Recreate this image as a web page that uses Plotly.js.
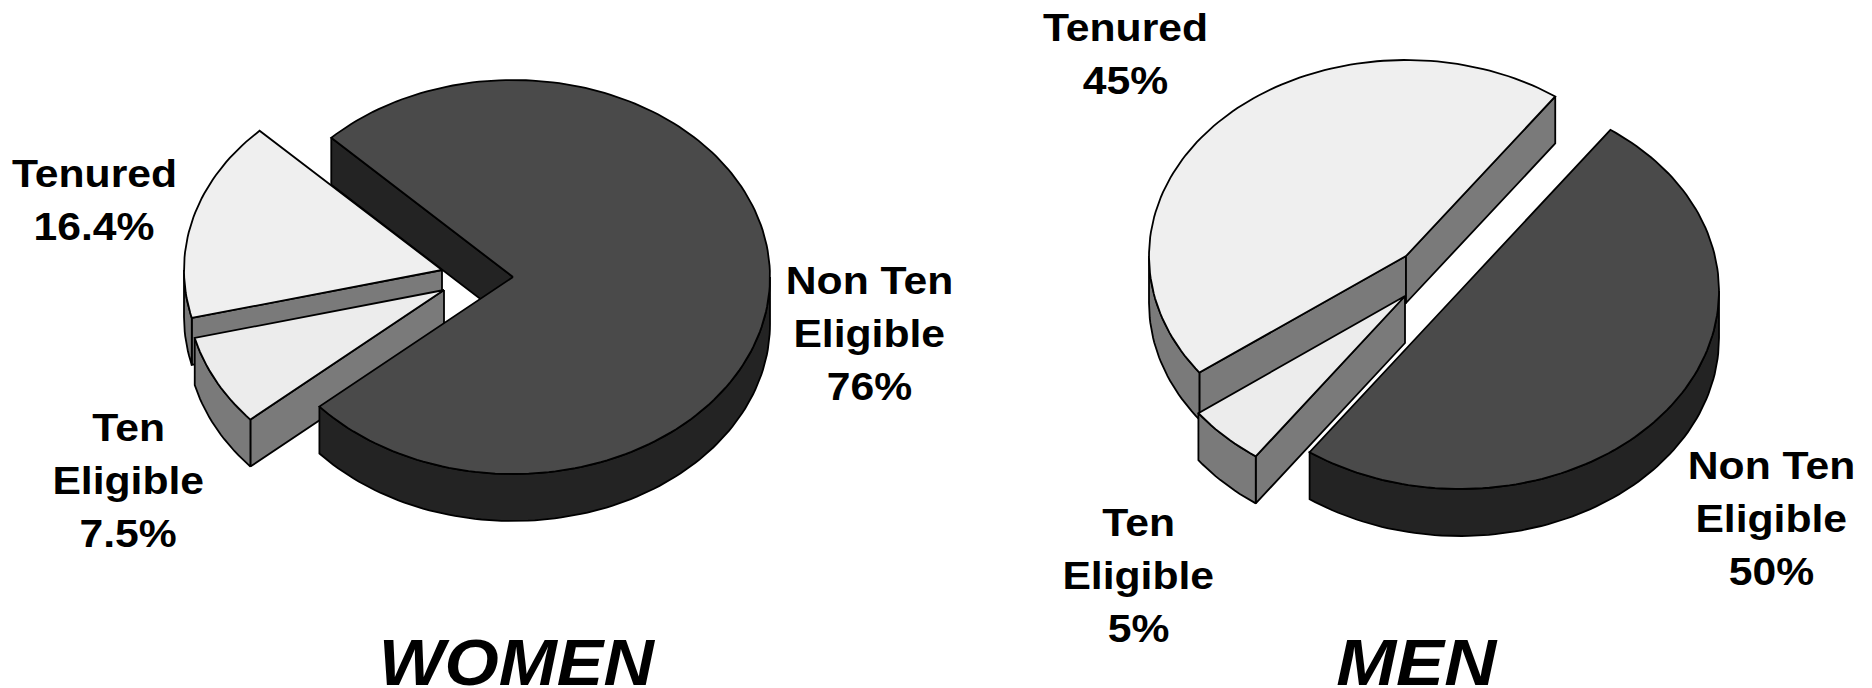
<!DOCTYPE html>
<html>
<head>
<meta charset="utf-8">
<title>Women and Men by tenure status</title>
<script src="https://cdn.plot.ly/plotly-3.0.1.min.js"></script>
<style>html,body{margin:0;padding:0;background:#fff}#chart{width:1872px;height:688px}</style>
</head>
<body>
<div id="chart"></div>
<script>
// ---- data ----
const categories = ["Tenured", "Ten Eligible", "Non Ten Eligible"];
const womenValues = [16.4, 7.5, 76];
const menValues = [45, 5, 50];
const womenLabels = [["Tenured", "16.4%"], ["Ten", "Eligible", "7.5%"], ["Non Ten", "Eligible", "76%"]];
const menLabels = [["Tenured", "45%"], ["Ten", "Eligible", "5%"], ["Non Ten", "Eligible", "50%"]];
const chartTitles = ["WOMEN", "MEN"];

// ---- drawing style and layout ----
const DEPTH = 47, LINE_HEIGHT = 53, LABEL_SIZE = 39.5, LABEL_STRETCH = 1.08, TITLE_SIZE = 64;
const topColors = ["#efefef", "#ececec", "#4a4a4a"];
const sideColors = ["#7a7a7a", "#7a7a7a", "#232323"];
const edge = {color: "#000000", width: 1.8};
const FONT = "Liberation Sans, Arial, sans-serif";
const pies = [
  {name: chartTitles[0], values: womenValues, labels: womenLabels, startDark: -45,
   centers: [[442, 270], [444, 290], [513, 277]],
   radii: [[258, 197], [257, 197], [257, 197]],
   labelPos: [[94, 199], [128, 480], [869, 333]], titlePos: [517, 663], titleStretch: 1.09},
  {name: chartTitles[1], values: menValues, labels: menLabels, startDark: 35.5,
   centers: [[1406, 256], [1405, 296], [1460, 291]],
   radii: [[257, 196], [257, 197], [259, 198]],
   labelPos: [[1125, 53], [1138, 575], [1771, 518]], titlePos: [1417, 663], titleStretch: 1.125}
];

// angle is clockwise from twelve o'clock, in the tilted plane of the pie
const rim = (c, r, a, dy = 0) => {
  const t = a * Math.PI / 180;
  return [c[0] + r[0] * Math.sin(t), c[1] - r[1] * Math.cos(t) + dy];
};
const arc = (c, r, a, b, dy = 0) => {
  const pts = [], n = Math.max(1, Math.ceil(Math.abs(b - a) / 1.5));
  for (let i = 0; i <= n; i++) pts.push(rim(c, r, a + (b - a) * i / n, dy));
  return pts;
};
const poly = (pts, color, name) => ({
  type: "scatter", mode: "lines", fill: "toself", fillcolor: color, line: edge,
  x: pts.map(p => p[0]).concat(pts[0][0]), y: pts.map(p => p[1]).concat(pts[0][1]),
  name: name, hoverinfo: "name", showlegend: false
});
// a flat wall under one radius, only when it faces the viewer
const radialFace = (c, r, a, interiorSign, color, name) => {
  const t = a * Math.PI / 180;
  const d = [r[0] * Math.sin(t), -r[1] * Math.cos(t)];
  const inward = [interiorSign * r[0] * Math.cos(t), interiorSign * r[1] * Math.sin(t)];
  let n = [d[1], -d[0]];
  if (n[1] < 0) n = [-n[0], -n[1]];
  if (n[0] * inward[0] + n[1] * inward[1] >= 0) return [];
  const p = rim(c, r, a);
  return [poly([c, p, [p[0], p[1] + DEPTH], [c[0], c[1] + DEPTH]], color, name)];
};
// the curved wall: only the near half of the rim (90 to 270 degrees) is seen
const rimFaces = (c, r, a, b, color, name) => {
  const out = [];
  for (const k of [-360, 0, 360]) {
    const lo = Math.max(a, 90 + k), hi = Math.min(b, 270 + k);
    if (hi > lo) out.push(poly(arc(c, r, lo, hi).concat(arc(c, r, hi, lo, DEPTH)), color, name));
  }
  return out;
};

const traces = [], annotations = [], stretches = [];
for (const pie of pies) {
  const total = pie.values.reduce((s, v) => s + v, 0);
  const sweep = pie.values.map(v => v / total * 360);
  // clockwise order starting from the dark slice: dark, ten eligible, tenured
  const spans = [];
  const dStart = pie.startDark, dEnd = dStart + sweep[2];
  const eEnd = dEnd + sweep[1], tEnd = eEnd + sweep[0];
  spans[2] = [dStart, dEnd]; spans[1] = [dEnd, eEnd]; spans[0] = [eEnd, tEnd];

  const slice = i => {
    const [a, b] = spans[i], c = pie.centers[i], r = pie.radii[i];
    const name = pie.name + " " + categories[i] + " " + pie.values[i] + "%";
    return {
      radials: radialFace(c, r, a, 1, sideColors[i], name).concat(radialFace(c, r, b, -1, sideColors[i], name)),
      rest: rimFaces(c, r, a, b, sideColors[i], name).concat([poly([c].concat(arc(c, r, a, b)), topColors[i], name)])
    };
  };
  const dark = slice(2), ten = slice(0), elig = slice(1);
  traces.push(...dark.radials, ...ten.radials, ...ten.rest, ...elig.radials, ...elig.rest, ...dark.rest);

  pie.labels.forEach((lines, i) => lines.forEach((text, j) => {
    annotations.push({
      xref: "x", yref: "y", x: pie.labelPos[i][0],
      y: pie.labelPos[i][1] + (j - (lines.length - 1) / 2) * LINE_HEIGHT, text: text,
      showarrow: false, xanchor: "center", yanchor: "middle", align: "center",
      font: {family: FONT, size: LABEL_SIZE, color: "#000", weight: "bold"}
    });
    stretches.push(LABEL_STRETCH);
  }));
  annotations.push({
    xref: "x", yref: "y", x: pie.titlePos[0], y: pie.titlePos[1], text: pie.name,
    showarrow: false, xanchor: "center", yanchor: "middle",
    font: {family: FONT, size: TITLE_SIZE, color: "#000", weight: "bold", style: "italic"}
  });
  stretches.push(pie.titleStretch);
}

const hidden = {visible: false, fixedrange: true, showgrid: false, zeroline: false};
Plotly.newPlot("chart", traces, {
  width: 1872, height: 688, margin: {l: 0, r: 0, t: 0, b: 0},
  paper_bgcolor: "#fff", plot_bgcolor: "#fff", showlegend: false,
  xaxis: Object.assign({range: [0, 1872]}, hidden),
  yaxis: Object.assign({range: [688, 0]}, hidden),
  annotations: annotations
}, {displayModeBar: false, staticPlot: true}).then(gd => {
  // the source type is set a little wider than it is tall
  gd.querySelectorAll(".annotation-text").forEach((t, i) => {
    t.setAttribute("textLength", t.getComputedTextLength() * stretches[i]);
    t.setAttribute("lengthAdjust", "spacingAndGlyphs");
  });
});
</script>
</body>
</html>
